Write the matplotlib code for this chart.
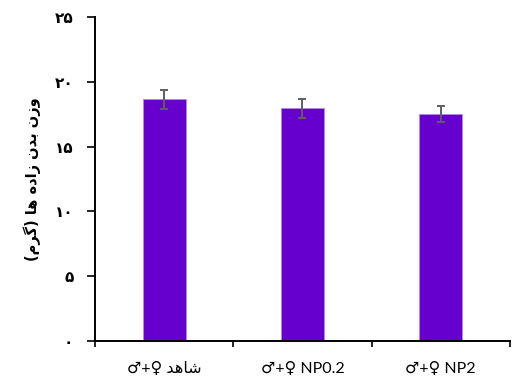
import matplotlib
matplotlib.use("Agg")
import matplotlib.pyplot as plt
import numpy as np

# --- data ---
# Persian text written in visual (shaped, left-to-right) order, since matplotlib has no RTL shaping
categories = ["\u2642+\u2640 \uFEAA\uFEEB\uFE8E\uFEB7", "\u2642+\u2640 NP0.2", "\u2642+\u2640 NP2"]
values = [18.65, 17.95, 17.55]
errors = [0.72, 0.72, 0.62]
y_ticks = [0, 5, 10, 15, 20, 25]
y_tick_labels = ["\u06F0", "\u06F5", "\u06F1\u06F0", "\u06F1\u06F5", "\u06F2\u06F0", "\u06F2\u06F5"]
y_label = "(\uFEE1\uFEAE\uFB94) \uFE8E\uFEEB \uFEE9\uFEA9\uFE8D\uFEAF \uFEE5\uFEAA\uFE91 \uFEE5\uFEAF\uFEED"

plt.rcParams['font.family'] = ['DejaVu Sans']

fig = plt.figure(figsize=(5.12, 3.81), dpi=100)
ax = fig.add_axes([0.1855, 0.105, 0.8105, 0.85])

x = np.arange(len(categories)) + 0.5
ax.bar(x, values, width=0.31, color='#6600CC', edgecolor='#B48AE6', linewidth=0.6, zorder=2)
ax.errorbar(x, values, yerr=errors, fmt='none', ecolor='#5F5F5F', elinewidth=1.4,
            capsize=2.6, capthick=1.4, zorder=3)

ax.set_xlim(0, 3)
ax.set_ylim(0, 25)
ax.set_yticks(y_ticks)
ax.set_yticklabels(y_tick_labels, fontsize=11, fontweight='bold')
ax.set_xticks([0, 1, 2, 3])
ax.set_xticklabels([])
ax.set_xticks(x, minor=True)
ax.set_xticklabels(categories, minor=True, fontsize=11.5, family=['Lato', 'DejaVu Sans'])
ax.tick_params(axis='x', which='minor', length=0, pad=15)
ax.tick_params(axis='x', which='major', length=4.3, width=1.2, direction='out')
ax.tick_params(axis='y', length=5.5, width=1.2, direction='out', pad=10)

ax.set_ylabel(y_label, fontsize=10.5, fontweight='bold', labelpad=10)

for s in ['top', 'right']:
    ax.spines[s].set_visible(False)
for s in ['left', 'bottom']:
    ax.spines[s].set_linewidth(1.4)

fig.savefig("out.png", dpi=100)
